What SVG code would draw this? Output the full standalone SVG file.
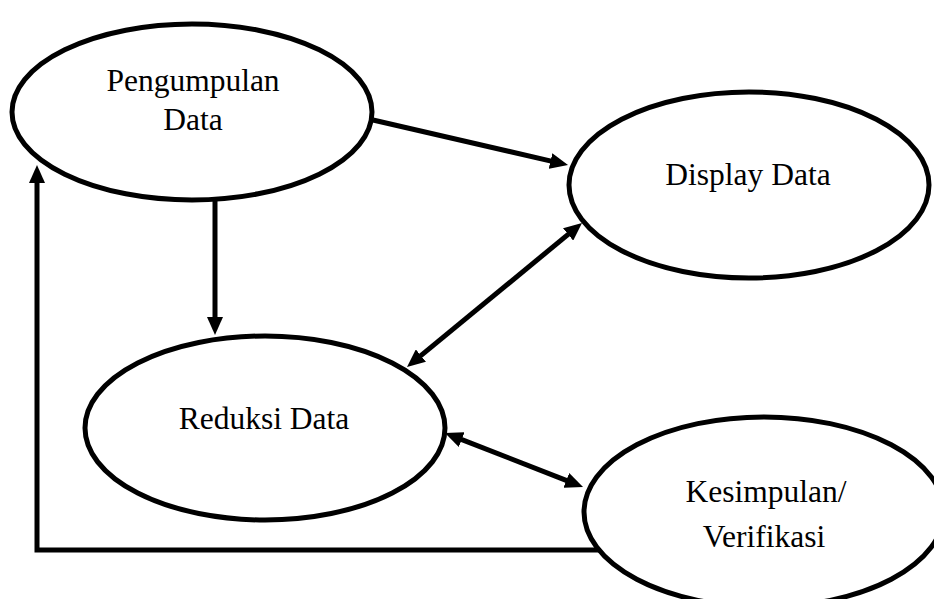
<svg xmlns="http://www.w3.org/2000/svg" width="934" height="599" viewBox="0 0 934 599">
<style>
.node ellipse{fill:#fff;stroke:#000;stroke-width:5}
.node text{font-family:"Liberation Serif","Times New Roman",serif;font-size:31.5px;fill:#000;text-anchor:middle}
.conn{fill:none;stroke:#000;stroke-width:5}
</style>
<defs>
<marker id="ah" viewBox="0 0 18 16" markerWidth="18" markerHeight="16" refX="4" refY="8" markerUnits="userSpaceOnUse" orient="auto-start-reverse">
<path d="M0,0 L18,8 L0,16 z" fill="#000"/>
</marker>
</defs>
<rect width="934" height="599" fill="#fff"/>
<g id="pengumpulan" class="node">
<ellipse cx="192" cy="112" rx="180" ry="88"/>
<text x="193" y="91">Pengumpulan</text>
<text x="193" y="130">Data</text>
</g>
<g id="display" class="node">
<ellipse cx="749" cy="185" rx="180" ry="93"/>
<text x="748" y="185">Display Data</text>
</g>
<g id="reduksi" class="node">
<ellipse cx="265" cy="428" rx="180" ry="92"/>
<text x="264" y="429">Reduksi Data</text>
</g>
<g id="kesimpulan" class="node">
<ellipse cx="764" cy="512" rx="180" ry="95"/>
<text x="766" y="502">Kesimpulan/</text>
<text x="764" y="547">Verifikasi</text>
</g>
<g id="connectors">
<path class="conn" d="M373,120 L554.4,161.9" marker-end="url(#ah)"/>
<path class="conn" d="M215,200 V321" marker-end="url(#ah)"/>
<path class="conn" d="M571.2,231.9 L417.8,358.1" marker-start="url(#ah)" marker-end="url(#ah)"/>
<path class="conn" d="M458,438.1 L570,481.9" marker-start="url(#ah)" marker-end="url(#ah)"/>
<path class="conn" d="M600,550 H37 V179" marker-end="url(#ah)"/>
</g>
</svg>
